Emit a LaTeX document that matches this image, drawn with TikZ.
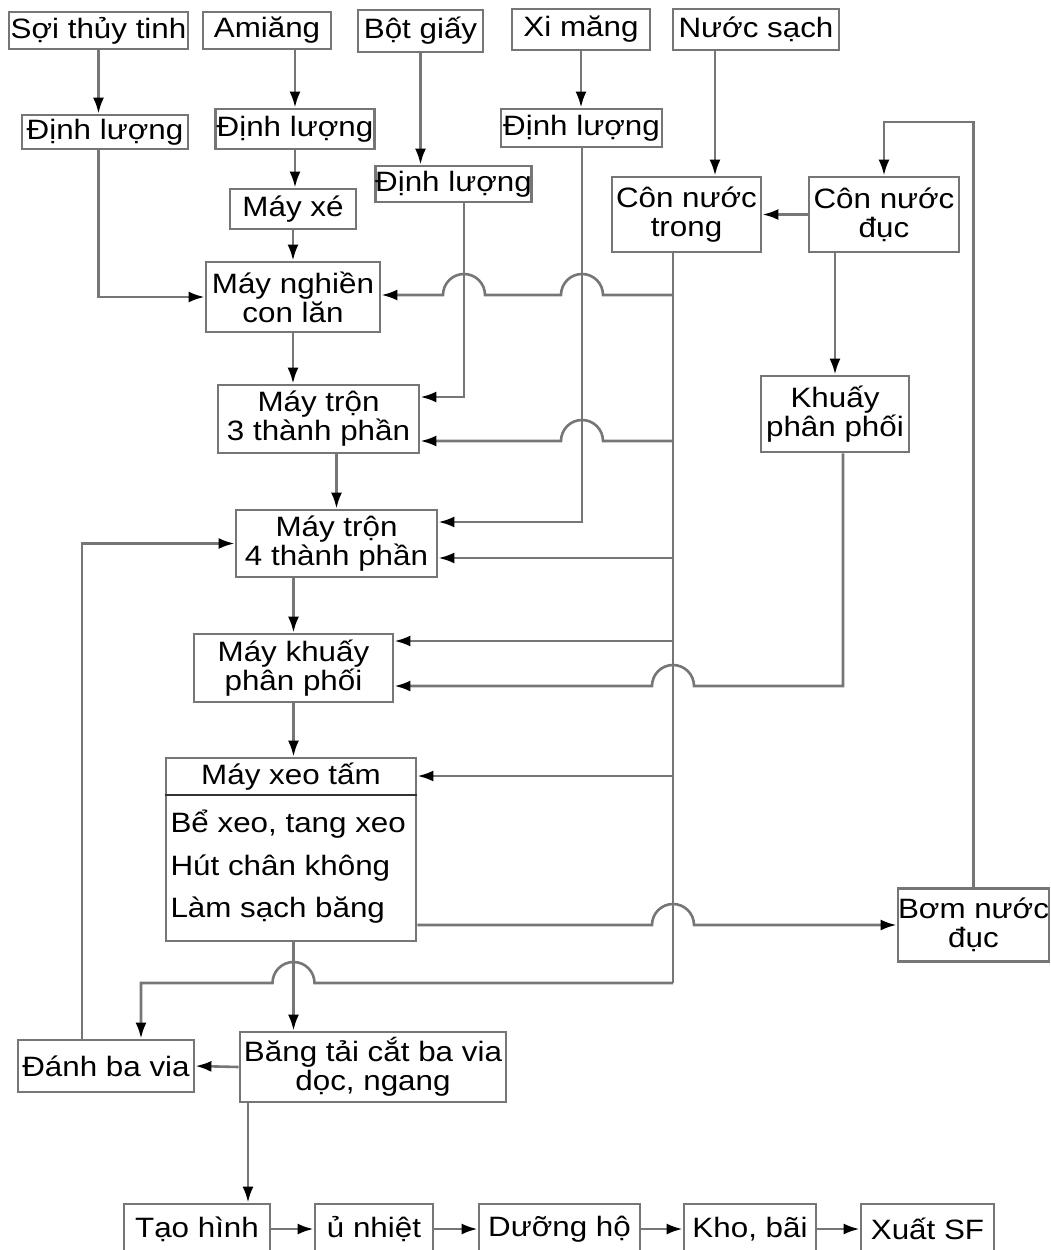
\documentclass[tikz,border=0pt]{standalone}
\usepackage{fontspec}
\setmainfont{Liberation Sans}[FakeStretch=1.12]
\usetikzlibrary{arrows.meta}
\definecolor{linegray}{RGB}{118,118,118}
\tikzset{
  box/.style={draw=linegray, line width=2.8pt, inner sep=0pt, align=center, fill=white},
  line/.style={draw=linegray, line width=2.6pt},
  arr/.style={line, -{Latex[length=16pt,width=11pt,color=black]}}
}
\begin{document}
\begin{tikzpicture}[x=1pt, y=-1pt, font=\fontsize{28}{29}\selectfont]
      \path[fill=white] (0,0) rectangle (1051,1250);
      \useasboundingbox (0,0) rectangle (1051,1250);
      \node[box, minimum width=179, minimum height=37] (soi) at (98.5,30.5) {Sợi thủy tinh};
      \node[box, minimum width=128, minimum height=37] (amiang) at (267,30.5) {Amiăng};
      \node[box, minimum width=125, minimum height=42] (botgiay) at (420.5,31) {Bột giấy};
      \node[box, minimum width=138, minimum height=41] (ximang) at (581,29.5) {Xi măng};
      \node[box, minimum width=166, minimum height=41] (nuoc) at (756,29.5) {Nước sạch};
      \node[box, minimum width=166, minimum height=34] (dl1) at (105,132) {Định lượng};
      \node[box, minimum width=159, minimum height=40] (dl2) at (295,129) {Định lượng};
      \node[box, minimum width=153, minimum height=36] (dl3) at (453.5,184) {Định lượng};
      \node[box, minimum width=161, minimum height=38] (dl4) at (581.5,128) {Định lượng};
      \node[box, minimum width=126, minimum height=40] (mayxe) at (293,209) {Máy xé};
      \node[box, minimum width=149, minimum height=75] (ctrong) at (686.5,214.5) {Côn nước\\trong};
      \node[box, minimum width=150, minimum height=75] (cduc) at (884,214.5) {Côn nước\\đục};
      \node[box, minimum width=174, minimum height=70] (mnghien) at (293,297) {Máy nghiền\\con lăn};
      \node[box, minimum width=201, minimum height=68] (mtron3) at (318.5,419) {Máy trộn\\3 thành phần};
      \node[box, minimum width=148, minimum height=76] (khuay) at (835,414) {Khuấy\\phân phối};
      \node[box, minimum width=201, minimum height=67] (mtron4) at (336.5,543.5) {Máy trộn\\4 thành phần};
      \node[box, minimum width=199, minimum height=68] (mkhuay) at (293.5,668) {Máy khuấy\\phân phối};
      \node[box, minimum width=250, minimum height=183] (mxeo) at (291,849.5) {};
      \node (mxeot) at (291,777) {Máy xeo tấm};
      \node[anchor=west, align=left, font=\fontsize{28}{42.5}\selectfont] (mxeoc) at (167,867) {Bể xeo, tang xeo\\Hút chân không\\Làm sạch băng};
      \node[box, minimum width=147, minimum height=73] (bom) at (973.5,925) {Bơm nước\\đục};
      \node[box, minimum width=176, minimum height=52] (danh) at (106,1066) {Đánh ba via};
      \node[box, minimum width=266, minimum height=70] (bangtai) at (373,1067) {Băng tải cắt ba via\\dọc, ngang};
      \node[box, minimum width=146, minimum height=50] (taohinh) at (197,1229) {Tạo hình};
      \node[box, minimum width=118, minimum height=50] (unhiet) at (374,1229) {ủ nhiệt};
      \node[box, minimum width=161, minimum height=50] (duong) at (559.5,1229) {Dưỡng hộ};
      \node[box, minimum width=132, minimum height=50] (kho) at (750,1229) {Kho, bãi};
      \node[box, minimum width=133, minimum height=50] (xuat) at (927.5,1229) {Xuất SF};
      \coordinate (j3) at (464,397);
      \coordinate (j4) at (582,522);
      \coordinate (tk) at (673,252);
      \coordinate (jb) at (248,1102);
      \draw[line, black!80] (mxeo.west |- 0,795) -- (mxeo.east |- 0,795);
      \draw[arr] (soi.south) -- (soi.south |- dl1.north);
      \draw[arr] (soi.south |- dl1.south) |- (mnghien.west);
      \draw[arr] (amiang.south -| dl2.north) -- (dl2.north);
      \draw[arr] (dl2.south) -- (dl2.south |- mayxe.north);
      \draw[arr] (mayxe.south) -- (mayxe.south |- mnghien.north);
      \draw[arr] (mnghien.south) -- (mnghien.south |- mtron3.north);
      \draw[arr] (botgiay.south) -- (botgiay.south |- dl3.north);
      \draw[arr] (j3 |- dl3.south) -- (j3) -- (j3 -| mtron3.east);
      \draw[arr] (ximang.south) -- (ximang.south |- dl4.north);
      \draw[arr] (j4 |- dl4.south) -- (j4) -- (j4 -| mtron4.east);
      \draw[arr] ([xshift=-41pt]nuoc.south) -- ([xshift=28.5pt]ctrong.north);
      \draw[arr] (cduc.west) -- (ctrong.east);
      \draw[arr] (cduc.south -| khuay.north) -- (khuay.north);
      \draw[arr] (bom.north) -- (bom.north |- 0,122) -| (cduc.north);
      \draw[line] (tk) -- (tk |- 0,983);
      \draw[arr] (tk |- 0,295) -- (603,295) arc(0:-180:21) -- (485,295) arc(0:-180:21) -- (mnghien.east |- 0,295);
      \draw[arr] (tk |- 0,441) -- (603,441) arc(0:-180:21) -- (mtron3.east |- 0,441);
      \draw[arr] (tk |- 0,558) -- (mtron4.east |- 0,558);
      \draw[arr] (tk |- 0,641) -- (mkhuay.east |- 0,641);
      \draw[arr] (tk |- 0,776) -- (mxeo.east |- 0,776);
      \draw[arr] (tk |- 0,983) -- (314.5,983) arc(0:-180:21) -| ([xshift=35pt]danh.north);
      \draw[arr] ([xshift=8pt]khuay.south) |- (694,686) arc(0:-180:21) -- (mkhuay.east |- 0,686);
      \draw[arr] (mxeo.east |- 0,925) -- (652,925) arc(180:360:21) -- (bom.west);
      \draw[arr] (mtron3.south -| mtron4.north) -- (mtron4.north);
      \draw[arr] (mtron4.south -| mkhuay.north) -- (mkhuay.north);
      \draw[arr] (mkhuay.south) -- (mkhuay.south |- mxeo.north);
      \draw[arr] (mkhuay.south |- mxeo.south) -- (mkhuay.south |- bangtai.north);
      \draw[arr] (bangtai.west) -- (danh.east);
      \draw[arr] ([xshift=-24pt]danh.north) |- (mtron4.west);
      \draw[arr] (jb) -- (jb |- taohinh.north);
      \draw[arr] (taohinh.east) -- (unhiet.west);
      \draw[arr] (unhiet.east) -- (duong.west);
      \draw[arr] (duong.east) -- (kho.west);
      \draw[arr] (kho.east) -- (xuat.west);
\end{tikzpicture}
\end{document}
